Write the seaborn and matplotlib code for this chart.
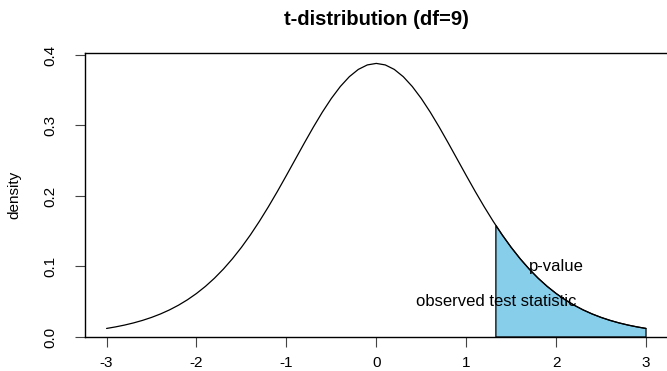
import pandas as pd
import matplotlib
matplotlib.use("Agg")
import matplotlib.pyplot as plt
import seaborn as sns

# t values and density of t-distribution with 9 degrees of freedom
t_values = [-3.0, -2.9, -2.8, -2.7, -2.6, -2.5, -2.4, -2.3, -2.2, -2.1,
            -2.0, -1.9, -1.8, -1.7, -1.6, -1.5, -1.4, -1.3, -1.2, -1.1,
            -1.0, -0.9, -0.8, -0.7, -0.6, -0.5, -0.4, -0.3, -0.2, -0.1,
            0.0, 0.1, 0.2, 0.3, 0.4, 0.5, 0.6, 0.7, 0.8, 0.9,
            1.0, 1.1, 1.2, 1.3, 1.4, 1.5, 1.6, 1.7, 1.8, 1.9,
            2.0, 2.1, 2.2, 2.3, 2.4, 2.5, 2.6, 2.7, 2.8, 2.9, 3.0]
density = [0.01213, 0.01433, 0.01692, 0.01998, 0.02357, 0.02778, 0.03271, 0.03845, 0.04512, 0.05284,
           0.06171, 0.07186, 0.08340, 0.09643, 0.11100, 0.12715, 0.14488, 0.16414, 0.18475, 0.20649,
           0.22913, 0.25219, 0.27523, 0.29768, 0.31893, 0.33835, 0.35530, 0.36920, 0.37952, 0.38588,
           0.38803, 0.38588, 0.37952, 0.36920, 0.35530, 0.33835, 0.31893, 0.29768, 0.27523, 0.25219,
           0.22913, 0.20649, 0.18475, 0.16414, 0.14488, 0.12715, 0.11100, 0.09643, 0.08340, 0.07186,
           0.06171, 0.05284, 0.04512, 0.03845, 0.03271, 0.02778, 0.02357, 0.01998, 0.01692, 0.01433, 0.01213]

# observed test statistic and density at that point
t_obs = 1.33
t_obs_density = 0.1582

x_ticks = [-3, -2, -1, 0, 1, 2, 3]
y_ticks = [0.0, 0.1, 0.2, 0.3, 0.4]

df = pd.DataFrame({"t": t_values, "density": density})

sns.set_style("white")
plt.rcParams["font.family"] = ["Liberation Sans", "DejaVu Sans"]
plt.rcParams["text.color"] = "black"
plt.rcParams["axes.labelcolor"] = "black"
plt.rcParams["xtick.color"] = "black"
plt.rcParams["ytick.color"] = "black"

fig = plt.figure(figsize=(6.67, 3.71), dpi=100)
ax = fig.add_axes([85 / 667, 34 / 371, 582.6 / 667, 284 / 371])

sns.lineplot(data=df, x="t", y="density", color="black", linewidth=0.9, ax=ax)

# shaded p-value area
tail = df[df["t"] > t_obs]
shade_x = [t_obs, t_obs] + tail["t"].tolist() + [tail["t"].iloc[-1]]
shade_y = [0, t_obs_density] + tail["density"].tolist() + [0]
ax.fill(shade_x, shade_y, facecolor="skyblue", edgecolor="black", linewidth=0.9)

ax.text(2, 0.1, "p-value", ha="center", va="center", fontsize=12)
ax.text(t_obs, 0.05, "observed test statistic", ha="center", va="center", fontsize=12)

ax.set_xlim(-3.24, 3.24)
ax.set_ylim(0, 0.4028)
ax.set_xticks(x_ticks)
ax.set_xticklabels([str(v) for v in x_ticks])
ax.set_yticks(y_ticks)
ax.set_yticklabels([f"{v:.1f}" for v in y_ticks], rotation=90, va="center")
ax.tick_params(axis="both", direction="out", length=7, width=0.8, labelsize=11,
               bottom=True, left=True, color="#444444", labelcolor="black")
ax.tick_params(axis="x", pad=6.5)
ax.tick_params(axis="y", pad=13)
ax.set_xlabel("")
ax.set_ylabel("density", fontsize=11)
ax.yaxis.set_label_coords((21 - 85) / 582.6, 0.5)
for side in ax.spines.values():
    side.set_color("black")
    side.set_linewidth(1.0)

fig.suptitle("t-distribution (df=9)", x=376 / 667, y=1 - 10 / 371, fontsize=14.5, fontweight="bold", va="top")

fig.savefig("out.png", dpi=100)
